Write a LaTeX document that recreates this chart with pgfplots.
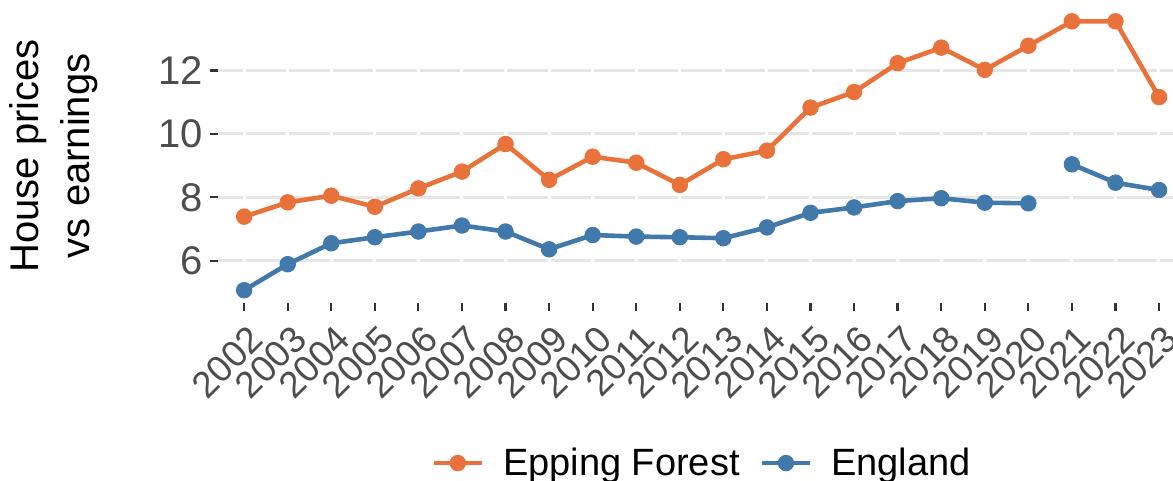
\documentclass[border=0pt]{standalone}
\usepackage{pgfplots}
\pgfplotsset{compat=1.18}
\usepackage{fontspec}
\setmainfont{Liberation Sans}
\definecolor{eforange}{HTML}{E9713A}
\definecolor{engblue}{HTML}{4279AB}
\definecolor{gridgray}{HTML}{E6E6E6}
\definecolor{tickgray}{HTML}{4D4D4D}
\pgfplotstableread{
year val
2002 7.39
2003 7.84
2004 8.05
2005 7.70
2006 8.28
2007 8.81
2008 9.68
2009 8.55
2010 9.28
2011 9.09
2012 8.39
2013 9.20
2014 9.47
2015 10.83
2016 11.32
2017 12.23
2018 12.72
2019 12.02
2020 12.78
2021 13.55
2022 13.55
2023 11.16
}\epping
\pgfplotstableread{
year val
2002 5.07
2003 5.89
2004 6.55
2005 6.74
2006 6.92
2007 7.11
2008 6.92
2009 6.36
2010 6.81
2011 6.76
2012 6.74
2013 6.71
2014 7.05
2015 7.51
2016 7.68
2017 7.88
2018 7.97
2019 7.83
2020 7.81
2020.5 nan
2021 9.04
2022 8.46
2023 8.23
}\england
\begin{document}
\begin{tikzpicture}
\pgfplotsset{
  base/.style={
    scale only axis, width=477.5pt, height=147.75pt,
    xmin=2001.4, xmax=2023.32, ymin=4.65, ymax=13.97,
    axis line style={draw=none},
    clip=false,
  }
}
\begin{axis}[base,
  xtick={2002,...,2023}, ytick={6,8,10,12},
  tick align=outside, xtick pos=bottom, ytick pos=left,
  major tick length=3.75pt,
  tick style={draw=black!80, line width=1.1pt},
  ymajorgrids, major grid style={draw=gridgray, line width=1.6pt},
  /pgf/number format/assume math mode=true,
  /pgf/number format/1000 sep={},
  ticklabel style={text=tickgray},
  xticklabel style={font=\fontsize{18.5}{18.5}\selectfont, xshift=1.5pt, yshift=-6pt, rotate=45, anchor=north east, inner sep=0pt},
  yticklabel style={font=\fontsize{20}{20}\selectfont, inner sep=0pt, xshift=-3.5pt},
  ylabel={House prices\\vs earnings},
  ylabel style={at={(axis description cs:-0.1722,0.5)}, anchor=center, align=center, font=\fontsize{20}{25.5}\selectfont},
]
\end{axis}
\begin{axis}[base,
  xtick={2002,...,2023}, ytick=\empty, xticklabels={}, major tick length=0pt,
  tick style={draw=none},
  xmajorgrids, major grid style={draw=white, line width=1.5pt},
  legend columns=-1,
  legend style={draw=none, fill=none, at={(0.508,-0.54)}, anchor=center,
    font=\fontsize{19}{19}\selectfont,
    /tikz/every odd column/.append style={column sep=7.5pt},
    /tikz/every even column/.append style={column sep=8pt}},
  legend image code/.code={\draw[mark repeat=2, mark phase=2, #1] plot coordinates {(0pt,0pt) (12pt,0pt) (24pt,0pt)};},
]
\addplot[color=eforange, line width=2.3pt, mark=*, mark size=3.9pt, mark options={line width=0.4pt}] table[x=year,y=val]{\epping};
\addlegendentry{Epping Forest}
\addplot[color=engblue, line width=2.3pt, mark=*, mark size=3.9pt, mark options={line width=0.4pt}, unbounded coords=jump] table[x=year,y=val]{\england};
\addlegendentry{England}
\end{axis}
\pgfresetboundingbox
\path (-109pt,-88.75pt) rectangle (477.5pt,151.75pt);
\end{tikzpicture}
\end{document}
